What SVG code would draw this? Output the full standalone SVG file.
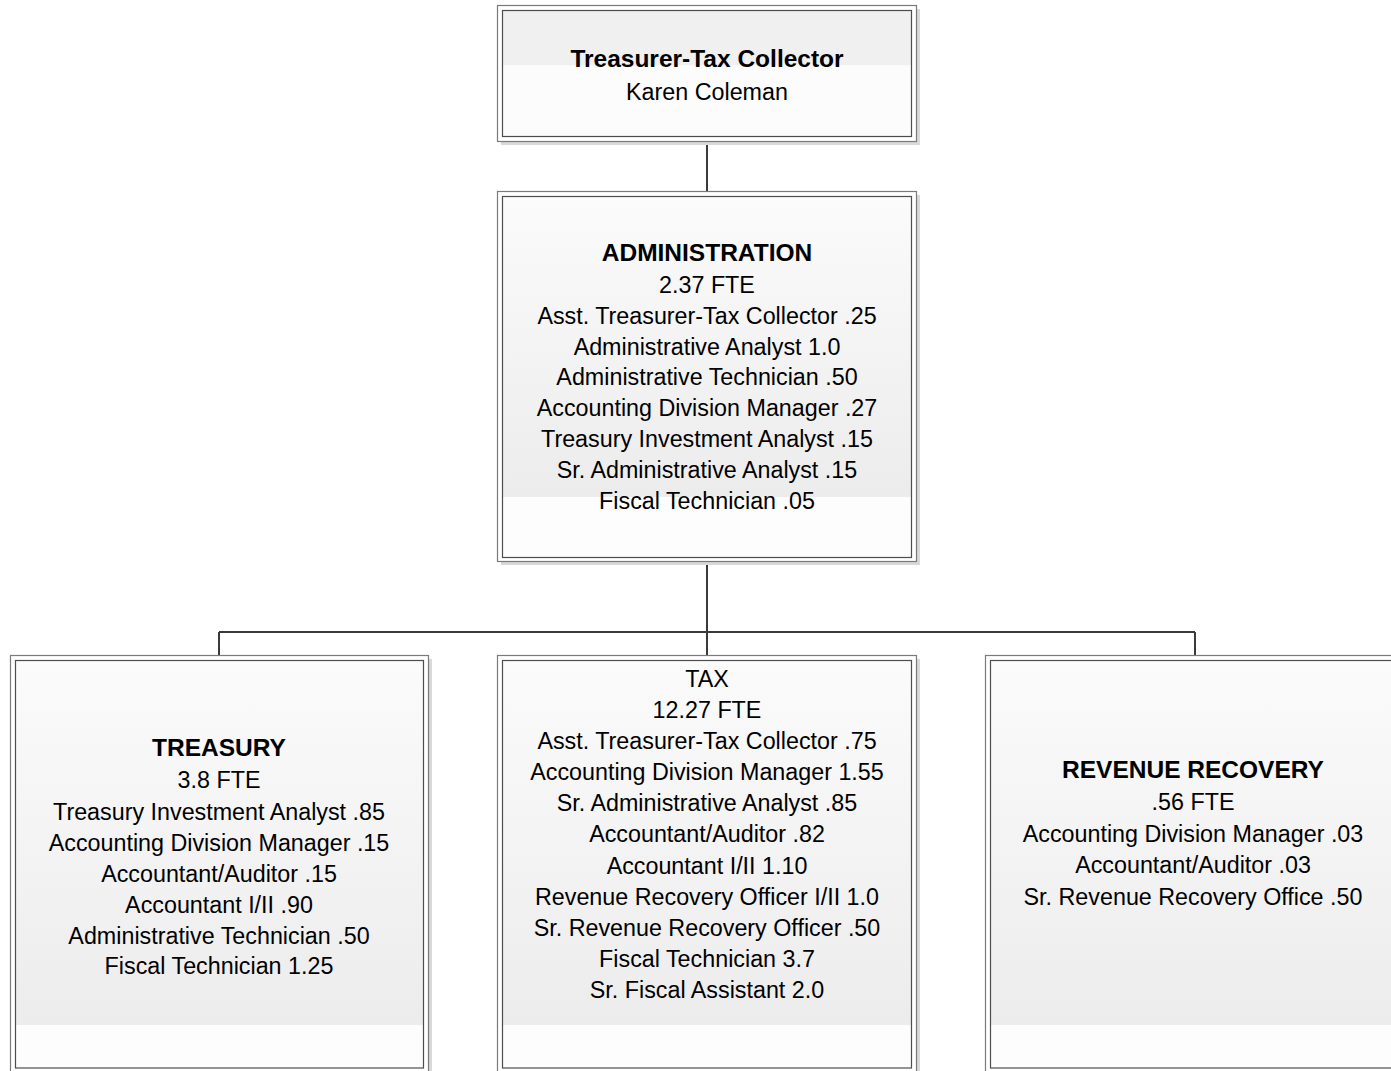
<svg xmlns="http://www.w3.org/2000/svg" width="1391" height="1071" viewBox="0 0 1391 1071">
<style>
.shadow{fill:#d9d9d9}
.outer{fill:#ffffff;stroke:#7a7a7a;stroke-width:1.2}
.inner{stroke:#4d4d4d;stroke-width:1.2}
.low{fill:#fdfdfd}
.t{font-family:"Liberation Sans",Arial,sans-serif;font-size:23.3px;fill:#000;text-anchor:middle}
.b{font-weight:bold;font-size:24.5px}
.conn{stroke:#3a3a3a;stroke-width:2;fill:none}
</style>
<defs>
<linearGradient id="g" x1="0" y1="0" x2="0" y2="1">
<stop offset="0" stop-color="#fbfbfb"/>
<stop offset="1" stop-color="#ececec"/>
</linearGradient>
</defs>
<rect width="1391" height="1071" fill="#ffffff"/>
<g id="connectors">
<path class="conn" d="M707 142 V191"/>
<path class="conn" d="M707 562 V655"/>
<path class="conn" d="M219 632 H1195"/>
<path class="conn" d="M219 632 V655"/>
<path class="conn" d="M1195 632 V655"/>
</g>
<g id="treasurer">
<rect class="shadow" x="501" y="9" width="419" height="136"/>
<rect class="outer" x="497.5" y="5.5" width="419" height="136"/>
<rect x="502.5" y="10.5" width="409" height="55" fill="#f0f0f0"/>
<rect x="502.5" y="65.5" width="409" height="71" fill="#fcfcfc"/>
<rect class="inner" x="502.5" y="10.5" width="409" height="126" fill="none"/>
<text class="t b" x="707" y="67">Treasurer-Tax Collector</text>
<text class="t" x="707" y="100">Karen Coleman</text>
</g>
<g id="administration">
<rect class="shadow" x="501" y="195" width="419" height="370"/>
<rect class="outer" x="497.5" y="191.5" width="419" height="370"/>
<rect x="502.5" y="196.5" width="409" height="300.5" fill="url(#g)"/>
<rect class="low" x="502.5" y="497" width="409" height="60.5"/>
<rect class="inner" x="502.5" y="196.5" width="409" height="361" fill="none"/>
<text class="t b" x="707" y="261">ADMINISTRATION</text>
<text class="t" x="707" y="293">2.37 FTE</text>
<text class="t" x="707" y="324">Asst. Treasurer-Tax Collector .25</text>
<text class="t" x="707" y="355">Administrative Analyst 1.0</text>
<text class="t" x="707" y="385">Administrative Technician .50</text>
<text class="t" x="707" y="416">Accounting Division Manager .27</text>
<text class="t" x="707" y="447">Treasury Investment Analyst .15</text>
<text class="t" x="707" y="478">Sr. Administrative Analyst .15</text>
<text class="t" x="707" y="509">Fiscal Technician .05</text>
</g>
<g id="treasury">
<rect class="shadow" x="14" y="659" width="418" height="420"/>
<rect class="outer" x="10.5" y="655.5" width="418" height="420"/>
<rect x="15.5" y="660.5" width="408" height="364.5" fill="url(#g)"/>
<rect class="low" x="15.5" y="1025" width="408" height="43"/>
<rect class="inner" x="15.5" y="660.5" width="408" height="407.5" fill="none"/>
<text class="t b" x="219" y="756">TREASURY</text>
<text class="t" x="219" y="788">3.8 FTE</text>
<text class="t" x="219" y="820">Treasury Investment Analyst .85</text>
<text class="t" x="219" y="851">Accounting Division Manager .15</text>
<text class="t" x="219" y="882">Accountant/Auditor .15</text>
<text class="t" x="219" y="913">Accountant I/II .90</text>
<text class="t" x="219" y="944">Administrative Technician .50</text>
<text class="t" x="219" y="974">Fiscal Technician 1.25</text>
</g>
<g id="tax">
<rect class="shadow" x="501" y="659" width="419" height="420"/>
<rect class="outer" x="497.5" y="655.5" width="419" height="420"/>
<rect x="502.5" y="660.5" width="409" height="364.5" fill="url(#g)"/>
<rect class="low" x="502.5" y="1025" width="409" height="43"/>
<rect class="inner" x="502.5" y="660.5" width="409" height="407.5" fill="none"/>
<text class="t" x="707" y="687">TAX</text>
<text class="t" x="707" y="718">12.27 FTE</text>
<text class="t" x="707" y="749">Asst. Treasurer-Tax Collector .75</text>
<text class="t" x="707" y="780">Accounting Division Manager 1.55</text>
<text class="t" x="707" y="811">Sr. Administrative Analyst .85</text>
<text class="t" x="707" y="842">Accountant/Auditor .82</text>
<text class="t" x="707" y="874">Accountant I/II 1.10</text>
<text class="t" x="707" y="905">Revenue Recovery Officer I/II 1.0</text>
<text class="t" x="707" y="936">Sr. Revenue Recovery Officer .50</text>
<text class="t" x="707" y="967">Fiscal Technician 3.7</text>
<text class="t" x="707" y="998">Sr. Fiscal Assistant 2.0</text>
</g>
<g id="revenue-recovery">
<rect class="shadow" x="989" y="659" width="419" height="420"/>
<rect class="outer" x="985.5" y="655.5" width="419" height="420"/>
<rect x="990.5" y="660.5" width="409" height="364.5" fill="url(#g)"/>
<rect class="low" x="990.5" y="1025" width="409" height="43"/>
<rect class="inner" x="990.5" y="660.5" width="409" height="407.5" fill="none"/>
<text class="t b" x="1193" y="778">REVENUE RECOVERY</text>
<text class="t" x="1193" y="810">.56 FTE</text>
<text class="t" x="1193" y="842">Accounting Division Manager .03</text>
<text class="t" x="1193" y="873">Accountant/Auditor .03</text>
<text class="t" x="1193" y="905">Sr. Revenue Recovery Office .50</text>
</g>
</svg>
